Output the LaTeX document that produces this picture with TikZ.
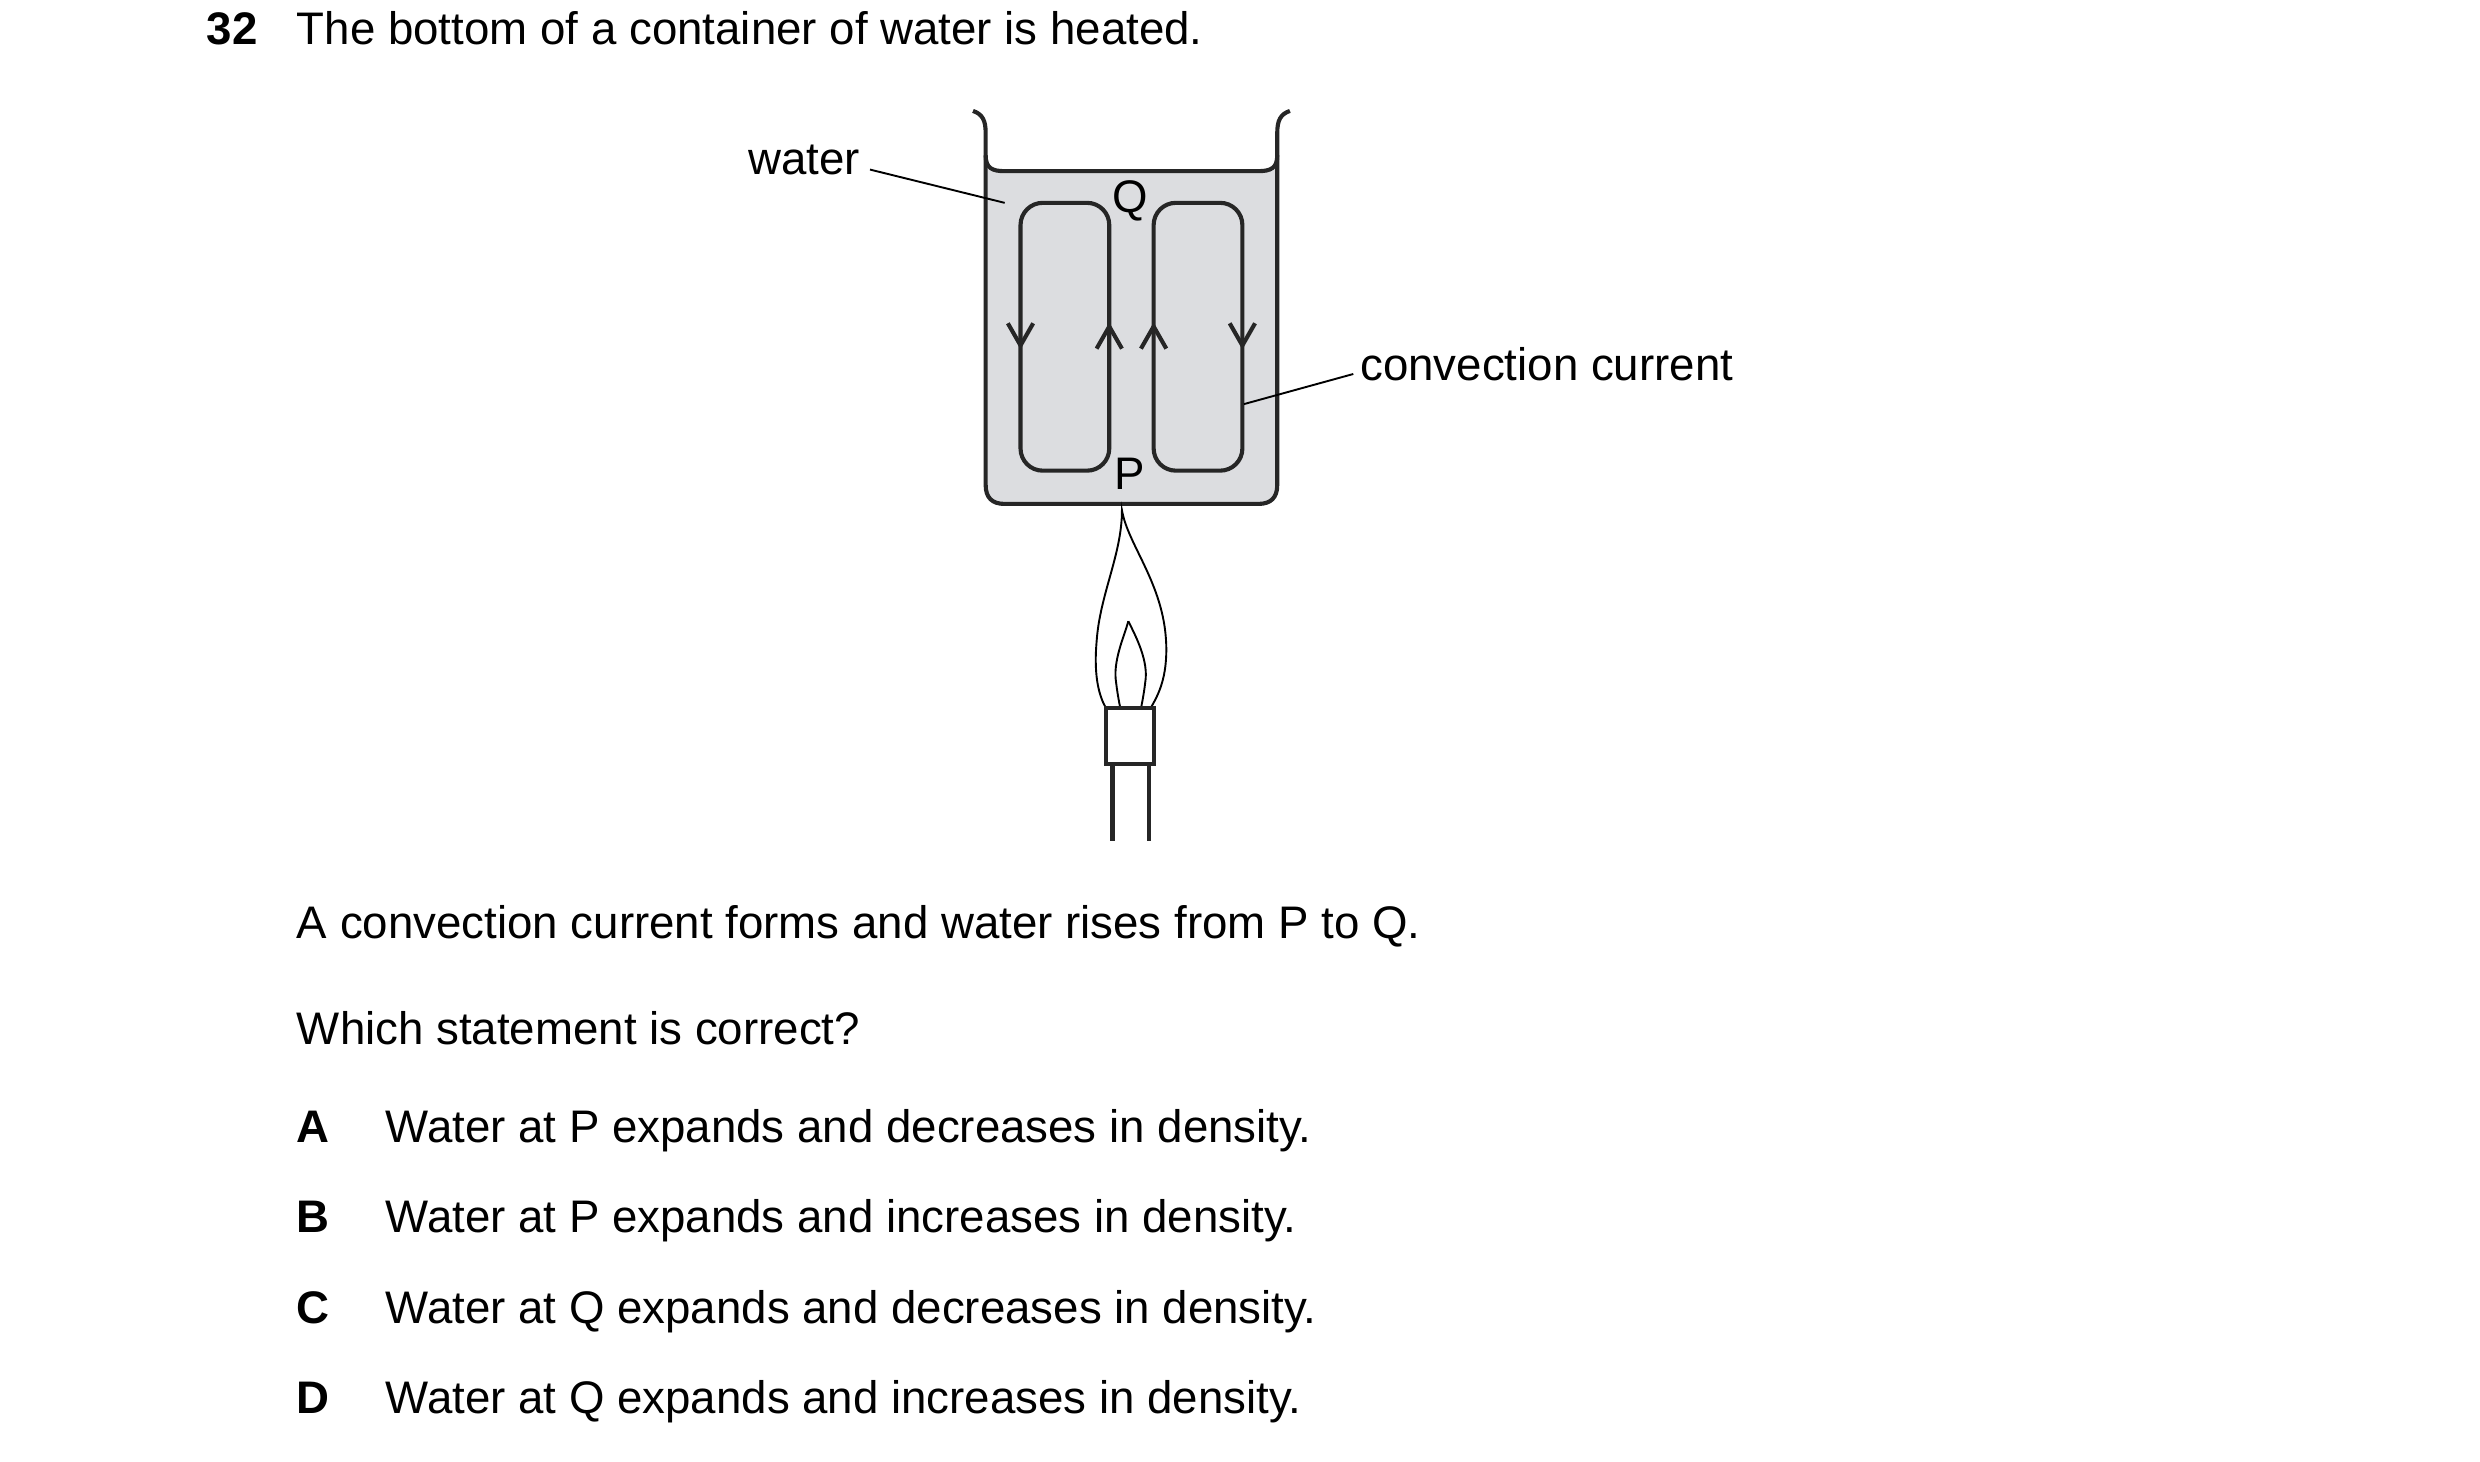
\documentclass[tikz,border=0pt]{standalone}
\usepackage{fontspec}
\setmainfont{Liberation Sans}
\begin{document}
\begin{tikzpicture}[x=0.5pt,y=-0.5pt,
  txt/.style={anchor=base west,inner sep=0pt,font=\fontsize{14.4}{17}\selectfont},
  wall/.style={line width=1.3pt,black!85},
  loop/.style={line width=1.3pt,black!85,rounded corners=7pt},
  lead/.style={line width=0.6pt},
  thin/.style={line width=0.6pt}]
\useasboundingbox (0,0) rectangle (1565,922);
\definecolor{water}{RGB}{220,221,224}
% water
\fill[water] (622,98) .. controls (622,106) and (626,108) .. (634,108) -- (794,108) .. controls (802,108) and (806,106) .. (806,98) -- (806,306) .. controls (806,314) and (802,318) .. (794,318) -- (634,318) .. controls (626,318) and (622,314) .. (622,306) -- cycle;
\draw[wall] (622,98) .. controls (622,106) and (626,108) .. (634,108) -- (794,108) .. controls (802,108) and (806,106) .. (806,98);
\draw[wall] (614,70) .. controls (620,72) and (622,76) .. (622,84) -- (622,306) .. controls (622,314) and (626,318) .. (634,318) -- (794,318) .. controls (802,318) and (806,314) .. (806,306) -- (806,84) .. controls (806,76) and (808,72) .. (814,70);
% loops
\draw[loop] (644,128) rectangle (700,297);
\draw[loop] (728,128) rectangle (784,297);
\foreach \x in {644,784} \draw[wall] (\x-8,204) -- (\x,218) -- (\x+8,204);
\foreach \x in {700,728} \draw[wall] (\x-8,220) -- (\x,206) -- (\x+8,220);
\node[txt,anchor=center] (Q) at (713,127) {Q};
\node[txt,anchor=center] (P) at (713,299) {P};
% labels
\node[txt,anchor=base east] (wl) at (543,110) {water};
\coordinate (wa) at (549,107);
\coordinate (wb) at (634,128);
\draw[lead] (wa) -- (wb);
\node[txt] (cl) at (858,240) {convection current};
\coordinate (ca) at (854,236);
\coordinate (cb) at (785,255);
\draw[lead] (ca) -- (cb);
% flame
\draw[thin,fill=white] (708,322) .. controls (712,345) and (736,370) .. (736,410) .. controls (736,430) and (730,440) .. (726,447) -- (698,447) .. controls (694,440) and (690,428) .. (692,405) .. controls (694,375) and (708,350) .. (708,322) -- cycle;
\draw[thin] (712,392) .. controls (716,400) and (724,415) .. (723,428) .. controls (722,437) and (721,442) .. (720,447);
\draw[thin] (712,392) .. controls (710,400) and (703,415) .. (704,428) .. controls (705,437) and (706,442) .. (707,447);
\draw[wall,fill=white] (698,447) rectangle (728,482);
\draw[wall] (702,482) -- (702,531);
\draw[wall] (725,482) -- (725,531);
% text
\node[txt,font=\fontsize{14.4}{17}\selectfont\bfseries] (n) at (130,28) {32};
\node[txt] (t1) at (187,28) {The bottom of a container of water is heated.};
\node[txt] (t2) at (187,592) {A convection current forms and water rises from P to Q.};
\node[txt] (t3) at (187,659) {Which statement is correct?};
\foreach \l/\yy/\s in {A/721/{Water at P expands and decreases in density.},B/778/{Water at P expands and increases in density.},C/835/{Water at Q expands and decreases in density.},D/892/{Water at Q expands and increases in density.}}{
  \node[txt,font=\fontsize{14.4}{17}\selectfont\bfseries] at (187,\yy) {\l};
  \node[txt] at (243,\yy) {\s};
}
\end{tikzpicture}
\end{document}
